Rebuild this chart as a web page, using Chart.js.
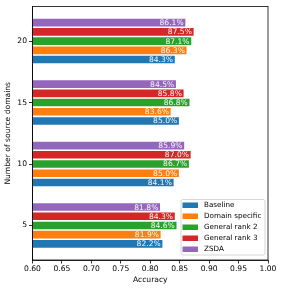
<!DOCTYPE html>
<html>
<head>
<meta charset="utf-8">
<script src="https://cdn.jsdelivr.net/npm/chart.js@4.4.0/dist/chart.umd.min.js"></script>
<style>
  html, body { margin: 0; padding: 0; background: #fff; }
  #wrap { width: 283px; height: 291px; }
</style>
</head>
<body>
<div id="wrap"><canvas id="chart" width="283" height="291"></canvas></div>
<script>
// Number of source domains (top to bottom)
const domains = [20, 15, 10, 5];
const yTicks = [5, 10, 15, 20];
const xTicks = [0.60, 0.65, 0.70, 0.75, 0.80, 0.85, 0.90, 0.95, 1.00];

// Accuracy in percent, same order as domains
const baseline = [84.3, 85.0, 84.1, 82.2];
const domainSpecific = [86.3, 83.6, 85.0, 81.9];
const generalRank2 = [87.1, 86.8, 86.7, 84.6];
const generalRank3 = [87.5, 85.8, 87.0, 84.3];
const zsda = [86.1, 84.5, 85.9, 81.8];

const seriesNames = ['Baseline', 'Domain specific', 'General rank 2', 'General rank 3', 'ZSDA'];
const seriesColors = ['#1f77b4', '#ff7f0e', '#2ca02c', '#d62728', '#9467bd'];
const seriesValues = [baseline, domainSpecific, generalRank2, generalRank3, zsda];

const FONT = 'DejaVu Sans';

// Chart.js puts first dataset on top, so reverse to keep Baseline at bottom
const datasets = seriesNames.map((name, i) => ({
    label: name,
    data: domains.map((d, j) => ({ x: seriesValues[i][j] / 100, y: d, pct: seriesValues[i][j] })),
    backgroundColor: seriesColors[i],
    borderColor: '#ffffff',
    borderWidth: 0.8,
    barPercentage: 1,
    categoryPercentage: 0.75
})).reverse();

// Percent labels at the end of each bar
const valueLabels = {
    id: 'valueLabels',
    afterDatasetsDraw(chart) {
        const ctx = chart.ctx;
        ctx.save();
        ctx.font = '7.6px "' + FONT + '"';
        ctx.fillStyle = 'rgba(255,255,255,0.95)';
        ctx.textAlign = 'right';
        ctx.textBaseline = 'middle';
        chart.data.datasets.forEach((ds, i) => {
            chart.getDatasetMeta(i).data.forEach((el, j) => {
                ctx.fillText(ds.data[j].pct.toFixed(1) + '%', el.x - 2.5, el.y + 0.5);
            });
        });
        ctx.restore();
    }
};

// Box around the plot + legend inside bottom right
const frameAndLegend = {
    id: 'frameAndLegend',
    afterDraw(chart) {
        const ctx = chart.ctx;
        const a = chart.chartArea;
        ctx.save();
        ctx.strokeStyle = '#000';
        ctx.lineWidth = 0.8;
        ctx.strokeRect(a.left, a.top, a.right - a.left, a.bottom - a.top);

        const bx = 181, by = 199.5, bw = 84, bh = 55.5;
        ctx.beginPath();
        ctx.roundRect(bx, by, bw, bh, 2);
        ctx.fillStyle = 'rgba(255,255,255,0.8)';
        ctx.fill();
        ctx.strokeStyle = '#cccccc';
        ctx.lineWidth = 0.8;
        ctx.stroke();

        ctx.font = '7.2px "' + FONT + '"';
        ctx.textAlign = 'left';
        ctx.textBaseline = 'middle';
        seriesNames.forEach((name, i) => {
            const y = 205 + i * 11;
            ctx.fillStyle = seriesColors[i];
            ctx.fillRect(182.5, y - 2.5, 15.5, 5.5);
            ctx.fillStyle = '#000';
            ctx.fillText(name, 204, y + 0.5);
        });
        ctx.restore();
    }
};

new Chart(document.getElementById('chart'), {
    type: 'bar',
    data: { datasets: datasets },
    options: {
        indexAxis: 'y',
        responsive: false,
        animation: false,
        layout: { padding: { left: 3, right: 15, top: 5, bottom: 6 } },
        plugins: {
            legend: { display: false },
            tooltip: { enabled: false }
        },
        scales: {
            x: {
                type: 'linear',
                min: 0.6,
                max: 1.0,
                afterBuildTicks(scale) { scale.ticks = xTicks.map(v => ({ value: v })); },
                afterFit(scale) { scale.height = 25; },
                ticks: {
                    color: '#000',
                    font: { family: FONT, size: 7.6 },
                    padding: 1,
                    maxRotation: 0,
                    callback: v => v.toFixed(2)
                },
                grid: { display: true, drawOnChartArea: false, drawTicks: true, tickLength: 3.5, color: '#000', lineWidth: 0.8 },
                border: { display: true, color: '#000', width: 0.8 },
                title: {
                    display: true,
                    text: 'Accuracy',
                    color: '#000',
                    font: { family: FONT, size: 7.6 },
                    padding: { top: 1, bottom: 0 }
                }
            },
            y: {
                type: 'linear',
                min: 2.19,
                max: 22.81,
                offset: false,
                afterBuildTicks(scale) { scale.ticks = yTicks.map(v => ({ value: v })); },
                afterFit(scale) { scale.width = 29.5; },
                ticks: {
                    color: '#000',
                    font: { family: FONT, size: 7.6 },
                    padding: 2
                },
                grid: { display: true, offset: false, drawOnChartArea: false, drawTicks: true, tickLength: 3.5, color: '#000', lineWidth: 0.8 },
                border: { display: true, color: '#000', width: 0.8 },
                title: {
                    display: true,
                    text: 'Number of source domains',
                    color: '#000',
                    font: { family: FONT, size: 7.6 },
                    padding: { top: 0, bottom: 2 }
                }
            }
        }
    },
    plugins: [valueLabels, frameAndLegend]
});
</script>
</body>
</html>
